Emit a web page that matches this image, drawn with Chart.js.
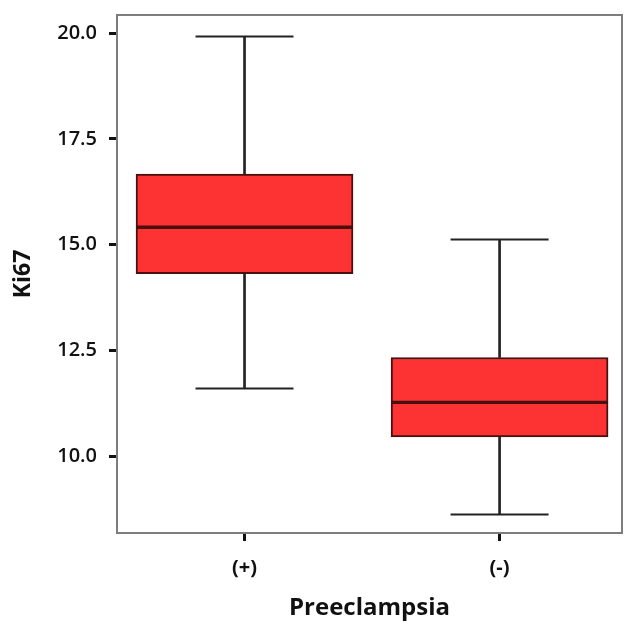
<!DOCTYPE html>
<html>
<head>
<meta charset="utf-8">
<script src="https://cdn.jsdelivr.net/npm/chart.js@4/dist/chart.umd.min.js"></script>
<style>
html,body{margin:0;padding:0;background:#fff;overflow:hidden;}
canvas{display:block;}
</style>
</head>
<body>
<canvas id="c" width="624" height="623"></canvas>
<script>
const categories = ['(+)', '(-)'];
const whiskerMin = [11.60, 8.62];
const q1 = [14.31, 10.45];
const median = [15.41, 11.27];
const q3 = [16.67, 12.33];
const whiskerMax = [19.92, 15.12];
const yTicks = [10.0, 12.5, 15.0, 17.5, 20.0];

const xPos = categories.map((c, i) => i + 1);
const boxFill = '#fd3333';
const boxEdge = '#4a1010';
const lineCol = '#222222';

const frame = {
  id: 'frame',
  beforeDatasetsDraw(chart) {
    const a = chart.chartArea, ctx = chart.ctx;
    ctx.save();
    ctx.strokeStyle = '#7d7d7d';
    ctx.lineWidth = 2;
    ctx.strokeRect(a.left, a.top, a.right - a.left, a.bottom - a.top);
    ctx.restore();
  }
};

const datasets = [
  { type: 'bar', label: 'Q1-Median', data: xPos.map((x, i) => ({x, y: [q1[i], median[i]]})),
    backgroundColor: boxFill, borderColor: boxEdge, borderWidth: 2, borderSkipped: false,
    barThickness: 217, grouped: false, order: 1 },
  { type: 'bar', label: 'Median-Q3', data: xPos.map((x, i) => ({x, y: [median[i], q3[i]]})),
    backgroundColor: boxFill, borderColor: boxEdge, borderWidth: 2, borderSkipped: false,
    barThickness: 217, grouped: false, order: 1 },
  { type: 'bar', label: 'Upper whisker', data: xPos.map((x, i) => ({x, y: [q3[i], whiskerMax[i]]})),
    backgroundColor: lineCol, borderWidth: 0, barThickness: 2, grouped: false, order: 2 },
  { type: 'bar', label: 'Lower whisker', data: xPos.map((x, i) => ({x, y: [whiskerMin[i], q1[i]]})),
    backgroundColor: lineCol, borderWidth: 0, barThickness: 2, grouped: false, order: 2 },
  { type: 'line', label: 'Max cap', data: xPos.map((x, i) => ({x, y: whiskerMax[i]})),
    showLine: false, pointStyle: 'line', pointRadius: 49, pointBorderWidth: 2,
    pointBorderColor: lineCol, borderColor: lineCol, order: 0 },
  { type: 'line', label: 'Min cap', data: xPos.map((x, i) => ({x, y: whiskerMin[i]})),
    showLine: false, pointStyle: 'line', pointRadius: 49, pointBorderWidth: 2,
    pointBorderColor: lineCol, borderColor: lineCol, order: 0 }
];

function zeroPad(s) { s.paddingTop = 0; s.paddingBottom = 0; s.paddingLeft = 0; s.paddingRight = 0; }

new Chart(document.getElementById('c'), {
  type: 'bar',
  data: { datasets },
  options: {
    responsive: false,
    animation: false,
    devicePixelRatio: 1,
    layout: { autoPadding: false, padding: { top: 15, right: 2, left: 0, bottom: 0 } },
    plugins: { legend: { display: false }, tooltip: { enabled: false } },
    scales: {
      x: {
        type: 'linear',
        offset: false,
        min: 0.5, max: 2.48,
        afterBuildTicks(s) { s.ticks = xPos.map(v => ({ value: v })); },
        afterFit(s) { s.height = 90; zeroPad(s); },
        border: { display: false },
        grid: { offset: false, drawOnChartArea: false, drawTicks: true, tickLength: 8, tickWidth: 3, tickColor: '#111' },
        ticks: {
          padding: 15,
          color: '#111',
          font: { family: 'Open Sans', size: 20, weight: '700' },
          callback: (v) => categories[Math.round(v) - 1] || ''
        },
        title: {
          display: true, text: 'Preeclampsia', color: '#111',
          font: { family: 'Open Sans', size: 24, weight: '700' },
          padding: { top: 0, bottom: 0 }
        }
      },
      y: {
        type: 'linear',
        min: 8.18, max: 20.43,
        afterBuildTicks(s) { s.ticks = yTicks.map(v => ({ value: v })); },
        afterFit(s) { s.width = 117; zeroPad(s); },
        border: { display: false },
        grid: { drawOnChartArea: false, drawTicks: true, tickLength: 8, tickWidth: 3, tickColor: '#111' },
        ticks: {
          padding: 12,
          color: '#111',
          font: { family: 'Open Sans', size: 20, weight: '600' },
          callback: (v) => Number(v).toFixed(1)
        },
        title: {
          display: true, text: 'Ki67', color: '#111',
          font: { family: 'Open Sans', size: 23, weight: '700' },
          padding: { top: 10, bottom: 0 }
        }
      }
    }
  },
  plugins: [frame]
});
</script>
</body>
</html>
